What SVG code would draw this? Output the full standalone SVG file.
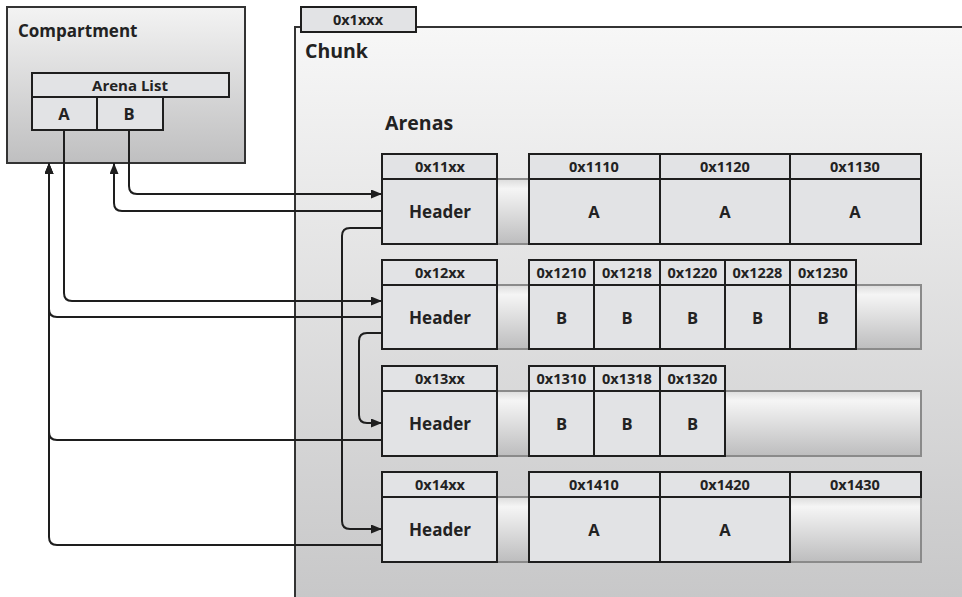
<svg xmlns="http://www.w3.org/2000/svg" width="962" height="597" viewBox="0 0 962 597">
  <defs>
    <linearGradient id="gCompartment" x1="0" y1="0" x2="0" y2="1">
      <stop offset="0" stop-color="#f3f3f3"/>
      <stop offset="1" stop-color="#bfbfc0"/>
    </linearGradient>
    <linearGradient id="gChunk" x1="0" y1="0" x2="0" y2="1">
      <stop offset="0" stop-color="#f7f7f7"/>
      <stop offset="1" stop-color="#c6c6c7"/>
    </linearGradient>
    <linearGradient id="gBand" x1="0" y1="0" x2="0" y2="1">
      <stop offset="0" stop-color="#dcdcdc"/>
      <stop offset="0.15" stop-color="#f5f5f5"/>
      <stop offset="1" stop-color="#bdbdbe"/>
    </linearGradient>
    <marker id="arrow" markerUnits="userSpaceOnUse" markerWidth="11" markerHeight="9" refX="11" refY="4.5" orient="auto">
      <path d="M0,0 L11,4.5 L0,9 z" fill="#1e1e1e"/>
    </marker>
  </defs>
  <style>
    text { font-family: "Open Sans", "Liberation Sans", sans-serif; font-weight: bold; fill: #222; }
    .title { font-size: 17px; }
    .big { font-size: 19.5px; }
    .addr { font-size: 14.5px; text-anchor: middle; }
    .hdr { font-size: 17px; text-anchor: middle; }
    .val { font-size: 16.5px; text-anchor: middle; }
    .cell { fill: #e2e3e5; stroke: #1e1e1e; stroke-width: 2; }
    .band { fill: url(#gBand); stroke: #8a8a8a; stroke-width: 2; }
    .conn { fill: none; stroke: #1e1e1e; stroke-width: 2; }
  </style>

  <rect width="962" height="597" fill="#ffffff"/>

  <!-- Compartment with its arena list -->
  <g id="compartment">
    <rect x="7" y="7" width="238" height="156" fill="url(#gCompartment)" stroke="#333" stroke-width="2"/>
    <text class="title" x="18" y="37">Compartment</text>
    <rect class="cell" x="32" y="73" width="197" height="24"/>
    <text class="addr" x="130" y="91" style="font-size:15px">Arena List</text>
    <rect class="cell" x="32" y="97" width="65" height="33"/>
    <rect class="cell" x="97" y="97" width="66" height="33"/>
    <text class="val" x="64" y="120">A</text>
    <text class="val" x="129" y="120">B</text>
  </g>

  <!-- Chunk container -->
  <g id="chunk">
    <rect x="295" y="27" width="680" height="590" fill="url(#gChunk)" stroke="#333" stroke-width="2"/>
    <rect class="cell" x="301" y="7" width="115" height="25"/>
    <text class="addr" x="358" y="25">0x1xxx</text>
    <text class="big" x="305" y="58">Chunk</text>
    <text class="big" x="385" y="130">Arenas</text>
  </g>

  <!-- Arena 0x11xx -->
  <g id="arena-11">
    <rect class="band" x="497" y="179" width="424" height="65"/>
    <rect class="cell" x="382" y="154" width="115" height="25"/>
    <rect class="cell" x="382" y="179" width="115" height="65"/>
    <text class="addr" x="440" y="172">0x11xx</text>
    <text class="hdr" x="440" y="218">Header</text>
    <rect class="cell" x="529" y="154" width="131" height="25"/>
    <rect class="cell" x="529" y="179" width="131" height="65"/>
    <rect class="cell" x="660" y="154" width="130" height="25"/>
    <rect class="cell" x="660" y="179" width="130" height="65"/>
    <rect class="cell" x="790" y="154" width="131" height="25"/>
    <rect class="cell" x="790" y="179" width="131" height="65"/>
    <text class="addr" x="594" y="172">0x1110</text>
    <text class="addr" x="725" y="172">0x1120</text>
    <text class="addr" x="855" y="172">0x1130</text>
    <text class="val" x="594" y="218">A</text>
    <text class="val" x="725" y="218">A</text>
    <text class="val" x="855" y="218">A</text>
  </g>

  <!-- Arena 0x12xx -->
  <g id="arena-12">
    <rect class="band" x="497" y="285" width="424" height="64"/>
    <rect class="cell" x="382" y="260" width="115" height="25"/>
    <rect class="cell" x="382" y="285" width="115" height="64"/>
    <text class="addr" x="440" y="278">0x12xx</text>
    <text class="hdr" x="440" y="324">Header</text>
    <rect class="cell" x="529" y="260" width="65" height="25"/>
    <rect class="cell" x="529" y="285" width="65" height="64"/>
    <rect class="cell" x="594" y="260" width="66" height="25"/>
    <rect class="cell" x="594" y="285" width="66" height="64"/>
    <rect class="cell" x="660" y="260" width="65" height="25"/>
    <rect class="cell" x="660" y="285" width="65" height="64"/>
    <rect class="cell" x="725" y="260" width="65" height="25"/>
    <rect class="cell" x="725" y="285" width="65" height="64"/>
    <rect class="cell" x="790" y="260" width="66" height="25"/>
    <rect class="cell" x="790" y="285" width="66" height="64"/>
    <text class="addr" x="561.5" y="278">0x1210</text>
    <text class="addr" x="627" y="278">0x1218</text>
    <text class="addr" x="692.5" y="278">0x1220</text>
    <text class="addr" x="757.5" y="278">0x1228</text>
    <text class="addr" x="823" y="278">0x1230</text>
    <text class="val" x="561.5" y="324">B</text>
    <text class="val" x="627" y="324">B</text>
    <text class="val" x="692.5" y="324">B</text>
    <text class="val" x="757.5" y="324">B</text>
    <text class="val" x="823" y="324">B</text>
  </g>

  <!-- Arena 0x13xx -->
  <g id="arena-13">
    <rect class="band" x="497" y="391" width="424" height="65"/>
    <rect class="cell" x="382" y="366" width="115" height="25"/>
    <rect class="cell" x="382" y="391" width="115" height="65"/>
    <text class="addr" x="440" y="384">0x13xx</text>
    <text class="hdr" x="440" y="430">Header</text>
    <rect class="cell" x="529" y="366" width="65" height="25"/>
    <rect class="cell" x="529" y="391" width="65" height="65"/>
    <rect class="cell" x="594" y="366" width="66" height="25"/>
    <rect class="cell" x="594" y="391" width="66" height="65"/>
    <rect class="cell" x="660" y="366" width="65" height="25"/>
    <rect class="cell" x="660" y="391" width="65" height="65"/>
    <text class="addr" x="561.5" y="384">0x1310</text>
    <text class="addr" x="627" y="384">0x1318</text>
    <text class="addr" x="692.5" y="384">0x1320</text>
    <text class="val" x="561.5" y="430">B</text>
    <text class="val" x="627" y="430">B</text>
    <text class="val" x="692.5" y="430">B</text>
  </g>

  <!-- Arena 0x14xx -->
  <g id="arena-14">
    <rect class="band" x="497" y="497" width="424" height="65"/>
    <rect class="cell" x="382" y="472" width="115" height="25"/>
    <rect class="cell" x="382" y="497" width="115" height="65"/>
    <text class="addr" x="440" y="490">0x14xx</text>
    <text class="hdr" x="440" y="536">Header</text>
    <rect class="cell" x="529" y="472" width="131" height="25"/>
    <rect class="cell" x="529" y="497" width="131" height="65"/>
    <rect class="cell" x="660" y="472" width="130" height="25"/>
    <rect class="cell" x="660" y="497" width="130" height="65"/>
    <rect class="cell" x="790" y="472" width="131" height="25"/>
    <text class="addr" x="594" y="490">0x1410</text>
    <text class="addr" x="725" y="490">0x1420</text>
    <text class="addr" x="855" y="490">0x1430</text>
    <text class="val" x="594" y="536">A</text>
    <text class="val" x="725" y="536">A</text>
  </g>

  <!-- Links between the arena list and the arena headers -->
  <g id="connectors">
    <path class="conn" d="M129 130 V186 Q129 194 137 194 H382" marker-end="url(#arrow)"/>
    <path class="conn" d="M382 211 H122 Q114 211 114 203 V163" marker-end="url(#arrow)"/>
    <path class="conn" d="M382 228 H350 Q342 228 342 236 V521 Q342 529 350 529 H382" marker-end="url(#arrow)"/>
    <path class="conn" d="M64 130 V293 Q64 301 72 301 H382" marker-end="url(#arrow)"/>
    <path class="conn" d="M382 317 H57 Q49 317 49 309 V163" marker-end="url(#arrow)"/>
    <path class="conn" d="M382 333 H367 Q359 333 359 341 V415 Q359 423 367 423 H382" marker-end="url(#arrow)"/>
    <path class="conn" d="M382 440 H57 Q49 440 49 432 V163" marker-end="url(#arrow)"/>
    <path class="conn" d="M382 545 H57 Q49 545 49 537 V163" marker-end="url(#arrow)"/>
  </g>
</svg>
